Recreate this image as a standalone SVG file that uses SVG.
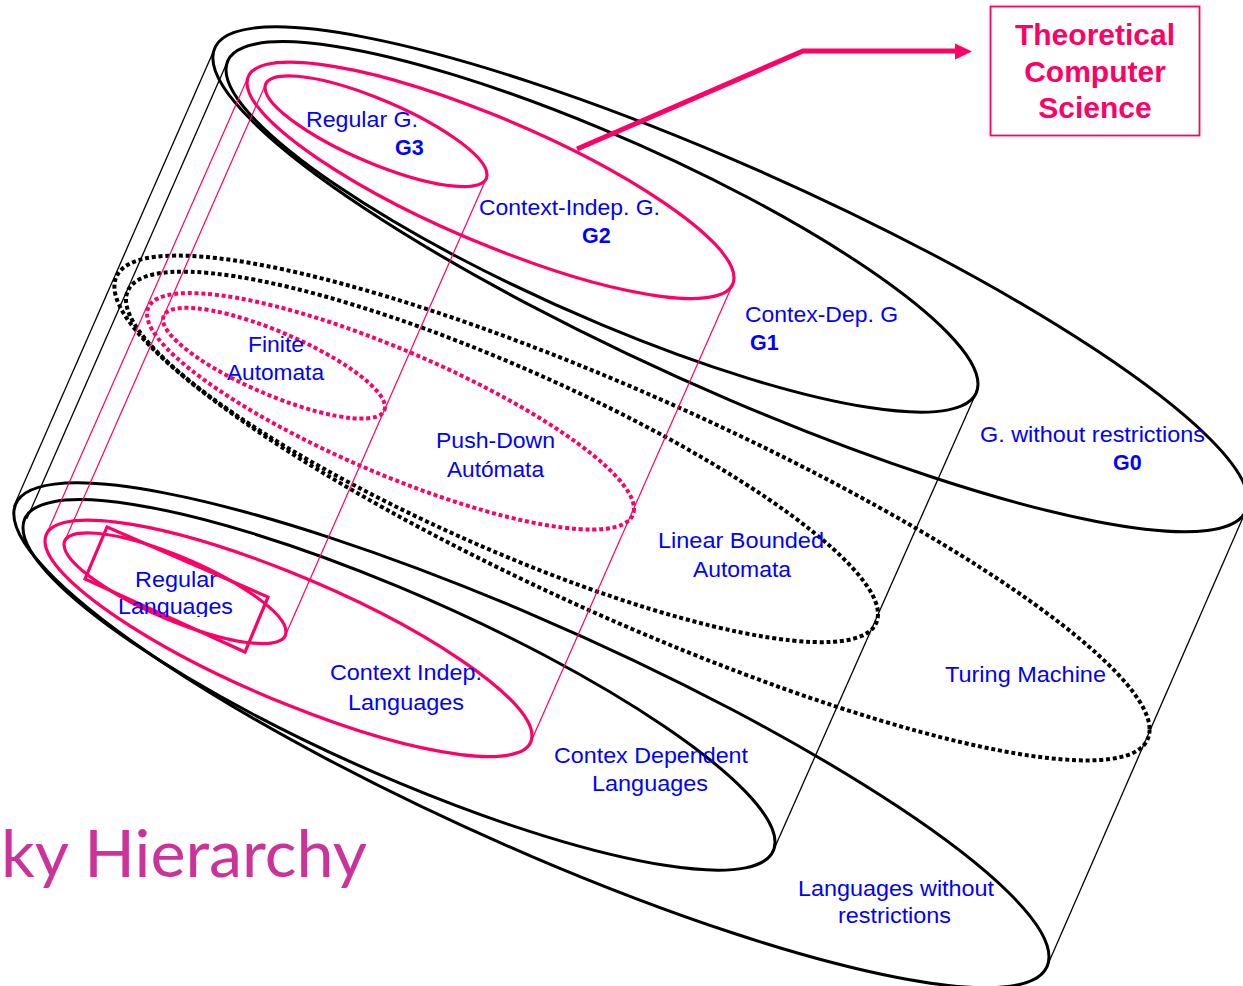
<svg xmlns="http://www.w3.org/2000/svg" xmlns:xlink="http://www.w3.org/1999/xlink" width="1243" height="986" viewBox="0 0 1243 986">
<style>
.blk{fill:none;stroke:#000;stroke-width:3}
.pnk{fill:none;stroke:#FF0066;stroke-width:3.2}
.bdot{fill:none;stroke:#000;stroke-width:4;stroke-dasharray:4 2.8}
.pdot{fill:none;stroke:#FF0066;stroke-width:4;stroke-dasharray:4 2.8}
.thinb{stroke:#000;stroke-width:1.3;fill:none}
.thinp{stroke:#FF0066;stroke-width:1.2;fill:none}
.lbl{font-family:"Liberation Sans",Arial,sans-serif;font-size:22px;fill:#0000FF}
.gl{font-family:"Liberation Sans",Arial,sans-serif;font-size:21.5px;font-weight:bold;fill:#0000FF}
.tcs{font-family:"Liberation Sans",Arial,sans-serif;font-size:30px;font-weight:bold;fill:#FF0066;text-anchor:middle}
</style>
<defs>
<path id="e0" d="M517.6,221.5 C517.6,288.3 285.9,243.3 0,121 C-285.9,-1.3 -517.6,-154.7 -517.6,-221.5 C-517.6,-288.3 -285.9,-243.3 0,-121 C285.9,1.3 517.6,154.7 517.6,221.5Z"/>
<path id="e1" d="M376,157.2 C376,211.3 207.7,184.8 0,98 C-207.7,11.2 -376,-103.1 -376,-157.2 C-376,-211.3 -207.7,-184.8 0,-98 C207.7,-11.2 376,103.1 376,157.2Z"/>
<path id="e2" d="M243.5,97.4 C243.5,134.4 134.5,120.8 0,67 C-134.5,13.2 -243.5,-60.4 -243.5,-97.4 C-243.5,-134.4 -134.5,-120.8 0,-67 C134.5,-13.2 243.5,60.4 243.5,97.4Z"/>
<path id="e3" d="M111,43.7 C111,62.5 61.3,58.1 0,34 C-61.3,9.9 -111,-24.9 -111,-43.7 C-111,-62.5 -61.3,-58.1 0,-34 C61.3,-9.9 111,24.9 111,43.7Z"/>
<clipPath id="langclip"><rect x="100" y="560" width="160" height="57"/></clipPath>
</defs>

<g id="grammars">
<g id="g0-top"><use xlink:href="#e0" href="#e0" class="blk" transform="translate(730.4,279.3)"/></g>
<g id="g1-top"><use xlink:href="#e1" href="#e1" class="blk" transform="translate(602,226.9)"/></g>
<g id="g2-top"><use xlink:href="#e2" href="#e2" class="pnk" transform="translate(490.5,180.3)"/></g>
<g id="g3-top"><use xlink:href="#e3" href="#e3" class="pnk" transform="translate(376,131.2)"/></g>
</g>

<g id="automata">
<g id="turing"><use xlink:href="#e0" href="#e0" class="bdot" transform="translate(632,508)"/></g>
<g id="lba"><use xlink:href="#e1" href="#e1" class="bdot" transform="translate(502,456.9)"/></g>
<g id="pda"><use xlink:href="#e2" href="#e2" class="pdot" transform="translate(390.5,411.3)"/></g>
<g id="fa"><use xlink:href="#e3" href="#e3" class="pdot" transform="translate(274,363.2)"/></g>
</g>

<g id="languages">
<g id="l0"><use xlink:href="#e0" href="#e0" class="blk" transform="translate(531.4,735.3)"/></g>
<g id="l1"><use xlink:href="#e1" href="#e1" class="blk" transform="translate(399,684.9)"/></g>
<g id="l2"><use xlink:href="#e2" href="#e2" class="pnk" transform="translate(288.5,638.3)"/></g>
<g id="l3"><use xlink:href="#e3" href="#e3" class="pnk" transform="translate(175,588.2)"/>
<polygon points="107,527 268,597 245,652 85,579" class="pnk"/></g>
</g>

<g id="connectors">
<line x1="214.7" y1="48.4" x2="13.7" y2="506.4" class="thinb"/>
<line x1="1246.1" y1="510.2" x2="1047.1" y2="966.2" class="thinb"/>
<line x1="227.7" y1="61.1" x2="26.7" y2="519.1" class="thinb"/>
<line x1="976.3" y1="392.7" x2="773.3" y2="850.7" class="thinb"/>
<line x1="248.2" y1="76.7" x2="46.2" y2="534.7" class="thinp"/>
<line x1="732.8" y1="283.9" x2="530.8" y2="741.9" class="thinp"/>
<line x1="265.7" y1="84" x2="64.7" y2="541" class="thinp"/>
<line x1="486.3" y1="178.4" x2="285.3" y2="635.4" class="thinp"/>
<polyline points="577,149 803,51 958,51" fill="none" stroke="#FF0066" stroke-width="5"/>
<polygon points="955,43.5 972,51.5 955,59.5" fill="#FF0066"/>
</g>

<g id="tcs-box">
<rect x="990.5" y="6.5" width="209" height="129" fill="none" stroke="#FF0066" stroke-width="1.8"/>
<text class="tcs" x="1095" y="45">Theoretical</text>
<text class="tcs" x="1095" y="82">Computer</text>
<text class="tcs" x="1095" y="118">Science</text>
</g>

<g id="labels">
<text class="lbl" x="306" y="127" textLength="112" lengthAdjust="spacingAndGlyphs">Regular G.</text>
<text class="gl" x="395" y="155">G3</text>
<text class="lbl" x="479" y="215" textLength="181" lengthAdjust="spacingAndGlyphs">Context-Indep. G.</text>
<text class="gl" x="582" y="243">G2</text>
<text class="lbl" x="745" y="322" textLength="153" lengthAdjust="spacingAndGlyphs">Contex-Dep. G</text>
<text class="gl" x="750" y="350">G1</text>
<text class="lbl" x="980" y="442" textLength="225" lengthAdjust="spacingAndGlyphs">G. without restrictions</text>
<text class="gl" x="1113" y="470">G0</text>
<text class="lbl" x="248" y="352" textLength="56" lengthAdjust="spacingAndGlyphs">Finite</text>
<text class="lbl" x="227" y="380" textLength="97" lengthAdjust="spacingAndGlyphs">Automata</text>
<text class="lbl" x="436" y="448" textLength="119" lengthAdjust="spacingAndGlyphs">Push-Down</text>
<text class="lbl" x="447" y="477" textLength="97" lengthAdjust="spacingAndGlyphs">Autómata</text>
<text class="lbl" x="658" y="548" textLength="166" lengthAdjust="spacingAndGlyphs">Linear Bounded</text>
<text class="lbl" x="693" y="577" textLength="98" lengthAdjust="spacingAndGlyphs">Automata</text>
<text class="lbl" x="945" y="682" textLength="161" lengthAdjust="spacingAndGlyphs">Turing Machine</text>
<text class="lbl" x="135" y="587" textLength="82" lengthAdjust="spacingAndGlyphs">Regular</text>
<text class="lbl" x="118" y="614" textLength="115" lengthAdjust="spacingAndGlyphs" clip-path="url(#langclip)">Languages</text>
<text class="lbl" x="330" y="680" textLength="152" lengthAdjust="spacingAndGlyphs">Context Indep.</text>
<text class="lbl" x="348" y="710" textLength="116" lengthAdjust="spacingAndGlyphs">Languages</text>
<text class="lbl" x="554" y="763" textLength="194" lengthAdjust="spacingAndGlyphs">Contex Dependent</text>
<text class="lbl" x="592" y="791" textLength="116" lengthAdjust="spacingAndGlyphs">Languages</text>
<text class="lbl" x="798" y="896" textLength="196" lengthAdjust="spacingAndGlyphs">Languages without</text>
<text class="lbl" x="838" y="923" textLength="113" lengthAdjust="spacingAndGlyphs">restrictions</text>
</g>

<g id="title">
<text x="1" y="877" font-family="Lato,'Open Sans',sans-serif" font-size="66" fill="#CC3399" textLength="366" lengthAdjust="spacingAndGlyphs">ky Hierarchy</text>
</g>
</svg>
